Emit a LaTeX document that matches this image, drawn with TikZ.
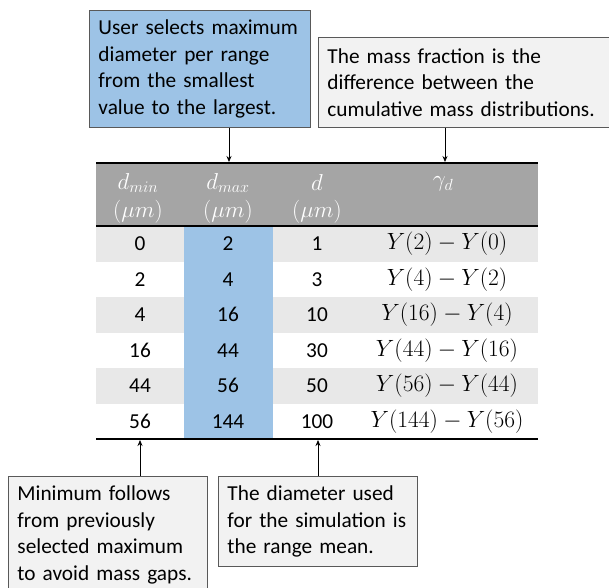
\RequirePackage{fix-cm}
\documentclass[tikz,border=0pt]{standalone}
\usepackage[no-math]{fontspec}
\setmainfont{Carlito}
\usetikzlibrary{arrows.meta}
\definecolor{bluefill}{HTML}{9DC3E6}
\definecolor{hdrgray}{HTML}{A5A5A5}
\definecolor{rowgray}{HTML}{E8E8E8}
\definecolor{notefill}{HTML}{F2F2F2}
\definecolor{notedraw}{HTML}{595959}
\definecolor{hdrtext}{HTML}{FFFFFF}
\begin{document}
\begin{tikzpicture}[x=1pt,y=-1pt,
  note/.style={draw=notedraw, line width=0.9pt, anchor=north west, align=left,
    inner xsep=9pt, inner ysep=0pt, font=\fontsize{21.3}{26.7}\selectfont},
  hdr/.style={text=hdrtext, inner sep=0pt, font=\fontsize{23}{26}\selectfont},
  cell/.style={inner sep=0pt, font=\fontsize{21.3}{24}\selectfont},
  fcell/.style={inner sep=0pt, font=\fontsize{23.5}{26}\selectfont},
  rule/.style={line width=2.4pt, black},
  arr/.style={line width=0.8pt, -{Stealth[length=6pt,width=5pt]}}]
\useasboundingbox (0,0) rectangle (609,587);
% table body
\fill[hdrgray] (96,163) rectangle (538,226);
\foreach \i in {1,3,5} \fill[rowgray] (96,{226+35.5*(\i-1)}) rectangle (538,{226+35.5*\i});
\fill[bluefill] (184,226) rectangle (273,439);
\draw[rule] (96,163) -- (538,163);
\draw[rule] (96,226) -- (538,226);
\draw[rule] (96,439) -- (538,439);
% header
\node[hdr] (h1a) at (138,183) {$d_{min}$};
\node[hdr] (h1b) at (138,212) {$(\mu m)$};
\node[hdr] (h2a) at (228,183) {$d_{max}$};
\node[hdr] (h2b) at (228,212) {$(\mu m)$};
\node[hdr] (h3a) at (317,183) {$d$};
\node[hdr] (h3b) at (317,212) {$(\mu m)$};
\node[hdr] (h4a) at (443,184) {$\gamma_d$};
% rows
\foreach \a/\b/\c/\p/\q [count=\i] in {0/2/1/2/0, 2/4/3/4/2, 4/16/10/16/4, 16/44/30/44/16, 44/56/50/56/44, 56/144/100/144/56} {
  \node[cell] (ra\i) at (140,{226+35.5*(\i-0.5)}) {\a};
  \node[cell] (rb\i) at (228,{226+35.5*(\i-0.5)}) {\b};
  \node[cell] (rc\i) at (317,{226+35.5*(\i-0.5)}) {\c};
  \node[fcell] (rd\i) at (447,{226+35.5*(\i-0.5)}) {$Y(\p)-Y(\q)$};
}
% notes
\node[note, fill=bluefill, minimum width=221pt, minimum height=117pt, text width=203pt] (blue) at (89,10)
  {User selects maximum\\diameter per range\\from the smallest\\value to the largest.};
\node[note, fill=notefill, minimum width=297pt, minimum height=90pt, text width=279pt] (mass) at (318,37)
  {The mass fraction is the\\difference between the\\cumulative mass distributions.};
\node[note, fill=notefill, minimum width=199pt, minimum height=117pt, text width=181pt] (minf) at (8,476)
  {Minimum follows\\from previously\\selected maximum\\to avoid mass gaps.};
\node[note, fill=notefill, minimum width=199pt, minimum height=90pt, text width=181pt] (diam) at (218,476)
  {The diameter used\\for the simulation is\\the range mean.};
% connectors
\coordinate (tA) at (229,162);
\coordinate (tB) at (445,162);
\coordinate (bA) at (140,440);
\coordinate (bB) at (318,440);
\draw[arr] (blue.south -| tA) -- (tA);
\draw[arr] (mass.south -| tB) -- (tB);
\draw[arr] (minf.north -| bA) -- (bA);
\draw[arr] (diam.north -| bB) -- (bB);
\end{tikzpicture}
\end{document}
